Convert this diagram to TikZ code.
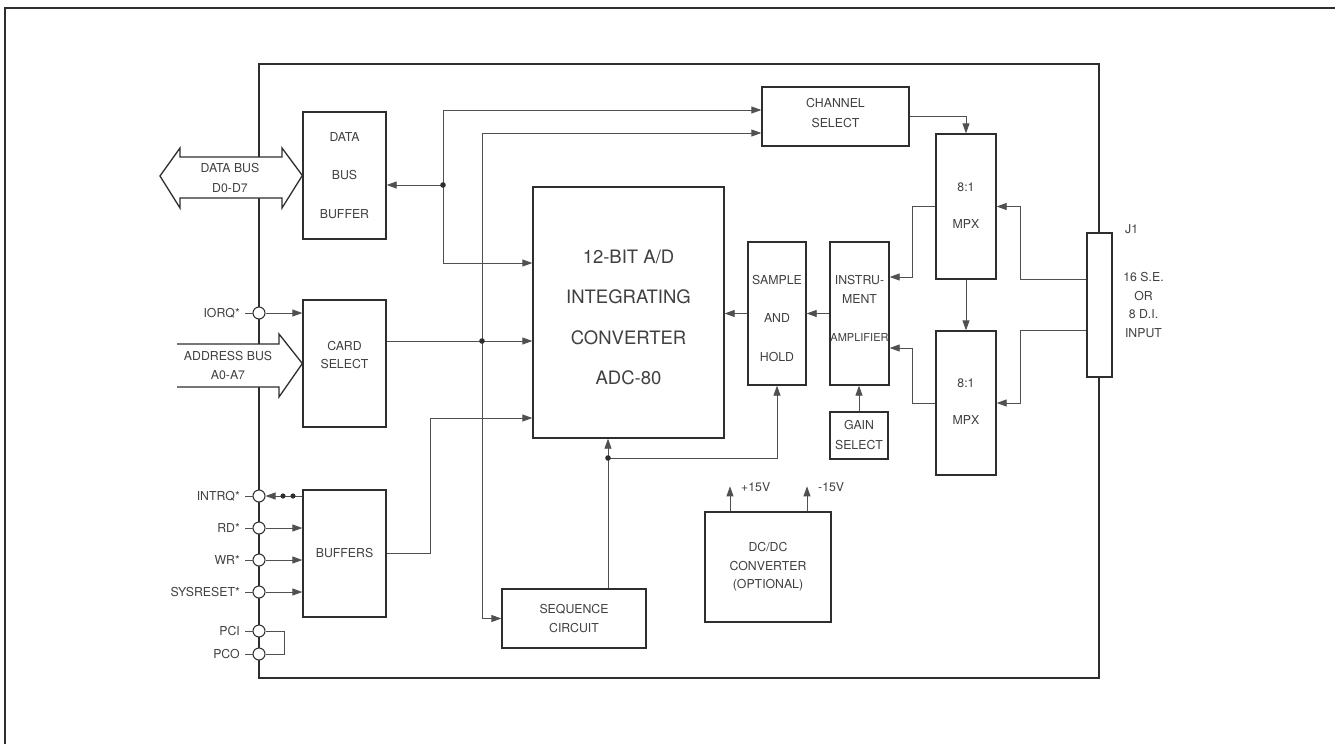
\documentclass[tikz,border=0pt]{standalone}
\usepackage{fontspec}
\setmainfont{TeX Gyre Heros}
\usetikzlibrary{arrows.meta,calc}
\definecolor{ink}{HTML}{2E2E2E}
\definecolor{wirec}{HTML}{505050}
\definecolor{txtc}{HTML}{404040}
\begin{document}
\begin{tikzpicture}[x=1pt,y=-1pt,
  >={Triangle[length=10pt,width=7pt]},
  box/.style={draw=ink,line width=1.3pt,fill=white,inner sep=0pt,align=center,text=txtc,font=\fontsize{12.3}{19}\selectfont},
  wire/.style={draw=wirec,line width=0.8pt},
  port/.style={circle,draw=ink,line width=1pt,fill=white,minimum size=12pt,inner sep=0pt},
  lab/.style={text=txtc,inner sep=0pt,align=center,font=\fontsize{12.3}{14}\selectfont},
  bus/.style={draw=ink,line width=1.3pt,fill=white}]
\useasboundingbox (0,0) rectangle (1335,744);
% outer sheet frame
\draw[ink,line width=1.4pt] (5,744) -- (5,8) -- (1335,8);
% board outline
\draw[ink,line width=1.3pt] (259,64) rectangle (1099,678);

% boxes
\node[box,minimum width=83pt,minimum height=127pt,font=\fontsize{12.3}{38.5}\selectfont] (dbb) at (344.5,175.5) {DATA\\BUS\\BUFFER};
\node[box,minimum width=83pt,minimum height=127pt] (cs) at (344.5,363.5) {};
\node[lab,font=\fontsize{12.3}{18}\selectfont] at (344.5,355) {CARD\\SELECT};
\node[box,minimum width=83pt,minimum height=127pt] (buf) at (344.5,553.5) {BUFFERS};
\node[box,minimum width=147pt,minimum height=59pt] (chs) at (835.5,116.5) {};
\node[lab,font=\fontsize{12.3}{20}\selectfont] at (835.5,113) {CHANNEL\\SELECT};
\node[box,minimum width=191pt,minimum height=251pt] (adc) at (628.5,312.5) {};
\node[lab,font=\fontsize{18.5}{40.5}\selectfont] at (628.5,317.5) {12-BIT A/D\\INTEGRATING\\CONVERTER\\ADC-80};
\node[box,minimum width=58pt,minimum height=143pt] (sh) at (777,313.5) {};
\node[lab,font=\fontsize{12.3}{38.5}\selectfont] at (777,318.5) {SAMPLE\\AND\\HOLD};
\node[box,minimum width=59pt,minimum height=143pt] (ia) at (859.5,313.5) {};
\node[lab,font=\fontsize{12.3}{19}\selectfont] at (859.5,308.5) {INSTRU-\\MENT\\[19pt]{\fontsize{11}{12}\selectfont AMPLIFIER}};
\node[box,minimum width=58pt,minimum height=47pt,font=\fontsize{12.3}{20}\selectfont] (gain) at (859,435.5) {GAIN\\SELECT};
\node[box,minimum width=60pt,minimum height=145pt] (mpx1) at (966,206.5) {};
\node[lab,font=\fontsize{12.3}{37}\selectfont] at (966,205.5) {8:1\\MPX};
\node[box,minimum width=60pt,minimum height=144pt] (mpx2) at (966,403) {};
\node[lab,font=\fontsize{12.3}{37}\selectfont] at (966,401.5) {8:1\\MPX};
\node[box,minimum width=25pt,minimum height=144pt] (j1) at (1099.5,305) {};
\node[box,minimum width=126pt,minimum height=110pt,font=\fontsize{12.3}{18.5}\selectfont] (dcdc) at (768,567) {DC/DC\\CONVERTER\\(OPTIONAL)};
\node[box,minimum width=144pt,minimum height=59pt,font=\fontsize{12.3}{19}\selectfont] (seq) at (574,618.5) {SEQUENCE\\CIRCUIT};

% buses
\draw[bus] (160,176) -- (180,148) -- (180,157) -- (282,157) -- (282,148) -- (dbb.west) -- (282,208) -- (282,198) -- (180,198) -- (180,208) -- cycle;
\node[lab,font=\fontsize{12.3}{20}\selectfont] at (230,178) {DATA BUS\\D0-D7};
\draw[bus] (177,344) -- (279,344) -- (279,334) -- (cs.west) -- (279,397) -- (279,387) -- (177,387);
\node[lab,font=\fontsize{12.3}{19}\selectfont] at (228,365.5) {ADDRESS BUS\\A0-A7};

% ports
\foreach \nm/\yy/\tx in {iorq/313/IORQ*,intrq/496/INTRQ*,rd/528/RD*,wr/560/WR*,sysr/592/SYSRESET*,pci/631/PCI,pco/654/PCO}{
  \node[port] (\nm) at (259,\yy) {};
  \node[lab,anchor=east] (l\nm) at (240,\yy) {\tx};
  \draw[wire] ([xshift=5pt]l\nm.east) -- (\nm.west);
}
\draw[wire,->] (iorq.east) -- (iorq.east -| cs.west);
\draw[wire,->] (intrq.east -| buf.west) -- (intrq.east);
\fill[ink] (283,496) circle (2.6pt) (293,496) circle (2.6pt);
\draw[wire,->] (rd.east) -- (rd.east -| buf.west);
\draw[wire,->] (wr.east) -- (wr.east -| buf.west);
\draw[wire,->] (sysr.east) -- (sysr.east -| buf.west);
\draw[wire] (pci.east) -- ++(19,0) |- (pco.east);

% internal wiring left
\coordinate (d1) at (443,185);
\coordinate (d2) at (482,341);
\coordinate (b1) at (430,418);
\coordinate (d3) at (608,458);
\draw[wire,->] (d1) -- (d1 -| dbb.east);
\draw[wire,->] (d1) |- ([yshift=6.5pt]chs.west);
\draw[wire,->] (d1) |- ([yshift=49.5pt]adc.west);
\draw[wire] (d2 -| cs.east) -- (d2);
\draw[wire,->] (d2) -- (d2 -| adc.west);
\draw[wire,->] (d2) |- ([yshift=-16.5pt]chs.west);
\draw[wire,->] (d2) |- (seq.west);
\draw[wire,->] (buf.east) -| (b1) -- (b1 -| adc.west);
\fill[ink] (d1) circle (2.8pt) (d2) circle (2.8pt);

% sequence / sample-hold
\draw[wire,->] (seq.north -| d3) -- (d3 |- adc.south);
\draw[wire,->] (d3) -| (sh.south);
\fill[ink] (d3) circle (2.8pt);
\draw[wire,->] (ia.west) -- (sh.east);
\draw[wire,->] (sh.west) -- (sh.west -| adc.east);
\draw[wire,->] (gain.north) -- (gain.north |- ia.south);

% right side
\draw[wire,->] (chs.east) -| (mpx1.north);
\draw[wire,->] (mpx1.south) -- (mpx2.north);
\draw[wire,->] ([yshift=26pt]j1.west) -- ++(-66,0) |- (mpx1.east);
\draw[wire,->] ([yshift=-25pt]j1.west) -- ++(-66,0) |- (mpx2.east);
\draw[wire,->] (mpx1.west) -- ++(-23,0) |- ([yshift=36.5pt]ia.east);
\draw[wire,->] (mpx2.west) -- ++(-23,0) |- ([yshift=-34.5pt]ia.east);
\node[lab,anchor=west] at (1125,229) {J1};
\node[lab,font=\fontsize{12.3}{18.7}\selectfont] at (1143.5,305) {16 S.E.\\OR\\8 D.I.\\INPUT};

% power
\draw[wire,->] ([xshift=-38pt]dcdc.north) -- ++(0,-25);
\draw[wire,->] ([xshift=39pt]dcdc.north) -- ++(0,-25);
\node[lab,anchor=west] at (741,487) {+15V};
\node[lab,anchor=west] at (818,487) {-15V};
\end{tikzpicture}
\end{document}
